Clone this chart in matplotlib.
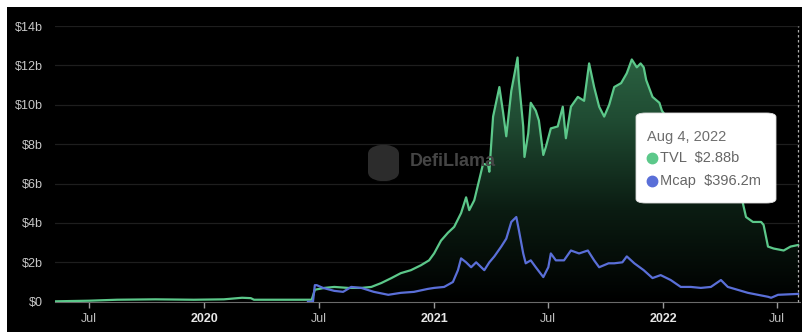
import numpy as np
import pandas as pd
import matplotlib
matplotlib.use("Agg")
import matplotlib.pyplot as plt
import matplotlib.dates as mdates
from matplotlib.patches import Rectangle, FancyBboxPatch
from matplotlib.lines import Line2D
from matplotlib.colors import LinearSegmentedColormap

plt.rcParams["font.family"] = ["Liberation Sans", "DejaVu Sans"]

# ----- data (billions USD) -----
tvl_dates = [
    "2019-05-09", "2019-07-01", "2019-08-15", "2019-10-15", "2019-12-15",
    "2020-02-01", "2020-03-01", "2020-03-15", "2020-03-20", "2020-05-01",
    "2020-06-20", "2020-06-25", "2020-06-27", "2020-07-10", "2020-07-26",
    "2020-08-17", "2020-09-07", "2020-09-23", "2020-10-09", "2020-10-25",
    "2020-11-09", "2020-11-25", "2020-12-11", "2020-12-24", "2021-01-01",
    "2021-01-12", "2021-01-23", "2021-02-02", "2021-02-13", "2021-02-21",
    "2021-02-26", "2021-03-06", "2021-03-14", "2021-03-20", "2021-03-28",
    "2021-03-30", "2021-04-05", "2021-04-15", "2021-04-21", "2021-04-26",
    "2021-05-04", "2021-05-14", "2021-05-16", "2021-05-23", "2021-05-25",
    "2021-05-31", "2021-06-04", "2021-06-12", "2021-06-17", "2021-06-24",
    "2021-06-28", "2021-07-06", "2021-07-17", "2021-07-25", "2021-07-30",
    "2021-08-07", "2021-08-18", "2021-08-28", "2021-09-05", "2021-09-13",
    "2021-09-21", "2021-09-29", "2021-10-07", "2021-10-15", "2021-10-26",
    "2021-11-04", "2021-11-12", "2021-11-20", "2021-11-26", "2021-12-01",
    "2021-12-05", "2021-12-15", "2021-12-26", "2021-12-30", "2022-01-15",
    "2022-02-01", "2022-03-01", "2022-04-01", "2022-05-01", "2022-05-08",
    "2022-05-13", "2022-05-24", "2022-06-06", "2022-06-10", "2022-06-17",
    "2022-06-26", "2022-07-12", "2022-07-23", "2022-08-04",
]
tvl_values = [
    0.02, 0.05, 0.10, 0.12, 0.10,
    0.12, 0.20, 0.18, 0.10, 0.10,
    0.10, 0.60, 0.62, 0.70, 0.75,
    0.70, 0.70, 0.75, 0.95, 1.20,
    1.45, 1.60, 1.85, 2.10, 2.45,
    3.10, 3.50, 3.80, 4.50, 5.30,
    4.65, 5.15, 6.20, 7.00, 6.95,
    6.60, 9.40, 10.90, 9.60, 8.40,
    10.70, 12.40, 11.25, 8.90, 7.35,
    8.55, 10.10, 9.70, 9.20, 7.45,
    7.85, 8.80, 8.90, 9.90, 8.30,
    9.90, 10.40, 10.20, 12.10, 10.90,
    9.90, 9.40, 10.00, 10.90, 11.10,
    11.60, 12.30, 11.90, 12.10, 11.90,
    11.25, 10.40, 10.10, 9.70, 9.00,
    8.00, 8.30, 8.60, 7.50, 5.00,
    4.30, 4.05, 4.05, 3.90, 2.80,
    2.70, 2.60, 2.80, 2.88,
]

mcap_dates = [
    "2020-06-14", "2020-06-22", "2020-06-25", "2020-06-28", "2020-07-08",
    "2020-07-26", "2020-08-09", "2020-08-22", "2020-09-07", "2020-09-27",
    "2020-10-20", "2020-11-09", "2020-11-30", "2020-12-22", "2021-01-01",
    "2021-01-17", "2021-01-31", "2021-02-08", "2021-02-13", "2021-02-21",
    "2021-03-01", "2021-03-09", "2021-03-22", "2021-03-30", "2021-04-07",
    "2021-04-18", "2021-04-26", "2021-05-04", "2021-05-12", "2021-05-16",
    "2021-05-23", "2021-05-27", "2021-06-04", "2021-06-12", "2021-06-24",
    "2021-07-02", "2021-07-06", "2021-07-14", "2021-07-27", "2021-08-07",
    "2021-08-20", "2021-09-03", "2021-09-13", "2021-09-21", "2021-10-06",
    "2021-10-15", "2021-10-28", "2021-11-04", "2021-11-16", "2021-12-01",
    "2021-12-15", "2021-12-28", "2022-01-13", "2022-01-29", "2022-02-14",
    "2022-03-02", "2022-03-18", "2022-04-03", "2022-04-14", "2022-04-30",
    "2022-05-16", "2022-06-01", "2022-06-17", "2022-06-22", "2022-07-03",
    "2022-08-04",
]
mcap_values = [
    0.00, 0.00, 0.84, 0.84, 0.70,
    0.55, 0.50, 0.75, 0.70, 0.50,
    0.35, 0.45, 0.50, 0.65, 0.70,
    0.75, 1.00, 1.60, 2.20, 2.00,
    1.75, 2.00, 1.60, 2.00, 2.30,
    2.80, 3.20, 4.05, 4.30, 3.65,
    2.45, 1.95, 2.10, 1.75, 1.25,
    1.75, 2.45, 2.10, 2.10, 2.60,
    2.45, 2.60, 2.10, 1.75, 1.95,
    1.95, 2.00, 2.30, 1.95, 1.60,
    1.20, 1.35, 1.10, 0.75, 0.75,
    0.70, 0.75, 1.10, 0.75, 0.60,
    0.45, 0.35, 0.25, 0.20, 0.35,
    0.396,
]

tick_dates = ["2019-07-01", "2020-01-01", "2020-07-01", "2021-01-01",
              "2021-07-01", "2022-01-01", "2022-07-01"]
tick_labels = ["Jul", "2020", "Jul", "2021", "Jul", "2022", "Jul"]
y_ticks = [0, 2, 4, 6, 8, 10, 12, 14]
y_labels = ["$0", "$2b", "$4b", "$6b", "$8b", "$10b", "$12b", "$14b"]

hover_date = "2022-08-04"
tooltip_title = "Aug 4, 2022"
tooltip_rows = [("TVL", "$2.88b"), ("Mcap", "$396.2m")]

TVL_COLOR = "#5cc88a"
MCAP_COLOR = "#5a6fd8"

# ----- figure -----
W, H = 808, 332
fig = plt.figure(figsize=(W / 100, H / 100), dpi=100, facecolor="white")
fig.add_artist(Rectangle((7 / W, 0), 795 / W, 325 / H, transform=fig.transFigure,
                         facecolor="black", edgecolor="none", zorder=0))

ax = fig.add_axes([55 / W, 30.3 / H, 745 / W, 275.7 / H])
ax.set_facecolor("none")

tx = mdates.date2num(pd.to_datetime(tvl_dates))
ty = np.array(tvl_values)
mx = mdates.date2num(pd.to_datetime(mcap_dates))
my = np.array(mcap_values)

x0 = mdates.date2num(pd.Timestamp("2019-05-08"))
x1 = mdates.date2num(pd.Timestamp("2022-08-07"))
ax.set_xlim(x0, x1)
ax.set_ylim(0, 14)

# grid
for v in y_ticks[1:]:
    ax.axhline(v, color="#1e1e1e", lw=0.9, zorder=1)

# gradient fill under TVL
poly = ax.fill_between(tx, ty, 0, color="none", lw=0)
cmap = LinearSegmentedColormap.from_list("g", ["#000000", "#0b1c12", "#204c33", "#306c48"])
grad = np.linspace(0, 1, 256).reshape(-1, 1)
img = ax.imshow(grad, cmap=cmap, origin="lower", aspect="auto",
                extent=[x0, x1, 0, 14], zorder=2)
img.set_clip_path(poly.get_paths()[0], transform=ax.transData)

# watermark
fig.add_artist(FancyBboxPatch((368 / W, (H - 182) / H), 31 / W, 38 / H,
                              boxstyle="round,pad=0,rounding_size=0.03",
                              transform=fig.transFigure, facecolor="#2c2c2c",
                              edgecolor="none", zorder=3))
fig.text(410 / W, (H - 162) / H, "DefiLlama", fontsize=13, fontweight="bold",
         color="#454545", va="center", ha="left", zorder=3)

ax.plot(tx, ty, color=TVL_COLOR, lw=1.6, zorder=4)
ax.plot(mx, my, color=MCAP_COLOR, lw=1.6, zorder=4)

# hover line
hx = mdates.date2num(pd.Timestamp(hover_date))
ax.plot([hx, hx], [0, 14], color="#aaaaaa", lw=0.9, ls=(0, (2, 2)), zorder=5,
        clip_on=False)

# axes styling
for s in ["top", "right", "left"]:
    ax.spines[s].set_visible(False)
ax.spines["bottom"].set_color("#6a6a6a")
ax.spines["bottom"].set_linewidth(0.8)
ax.spines["bottom"].set_zorder(3)

ax.set_yticks(y_ticks)
ax.set_yticklabels(y_labels)
ax.tick_params(axis="y", length=0, pad=9, labelsize=9, labelcolor="#c8c8c8")

ax.set_xticks(mdates.date2num(pd.to_datetime(tick_dates)))
ax.set_xticklabels(tick_labels)
ax.tick_params(axis="x", length=4, width=1, color="#9a9a9a", pad=4,
               labelsize=9, labelcolor="#bdbdbd")
for lab in ax.get_xticklabels():
    if lab.get_text() != "Jul":
        lab.set_fontweight("bold")
        lab.set_color("#e6e6e6")

# tooltip
fig.add_artist(FancyBboxPatch((636 / W, (H - 203) / H), 140 / W, 90 / H,
                              boxstyle="round,pad=0,rounding_size=0.012",
                              transform=fig.transFigure, facecolor="white",
                              edgecolor="#dddddd", lw=0.6, zorder=10))
fig.text(647 / W, (H - 137) / H, tooltip_title, fontsize=10.5, color="#6e6e6e",
         va="center", ha="left", zorder=11)
for i, ((name, val), col) in enumerate(zip(tooltip_rows, [TVL_COLOR, MCAP_COLOR])):
    yy = (H - 158 - 23 * i) / H
    fig.add_artist(Line2D([652 / W], [yy], marker="o", markersize=7.5,
                          color=col, transform=fig.transFigure, zorder=11))
    fig.text(660.5 / W, yy, f"{name}  {val}", fontsize=10.5, color="#666666",
             va="center", ha="left", zorder=11)

fig.savefig("out.png", dpi=100, facecolor="white")
